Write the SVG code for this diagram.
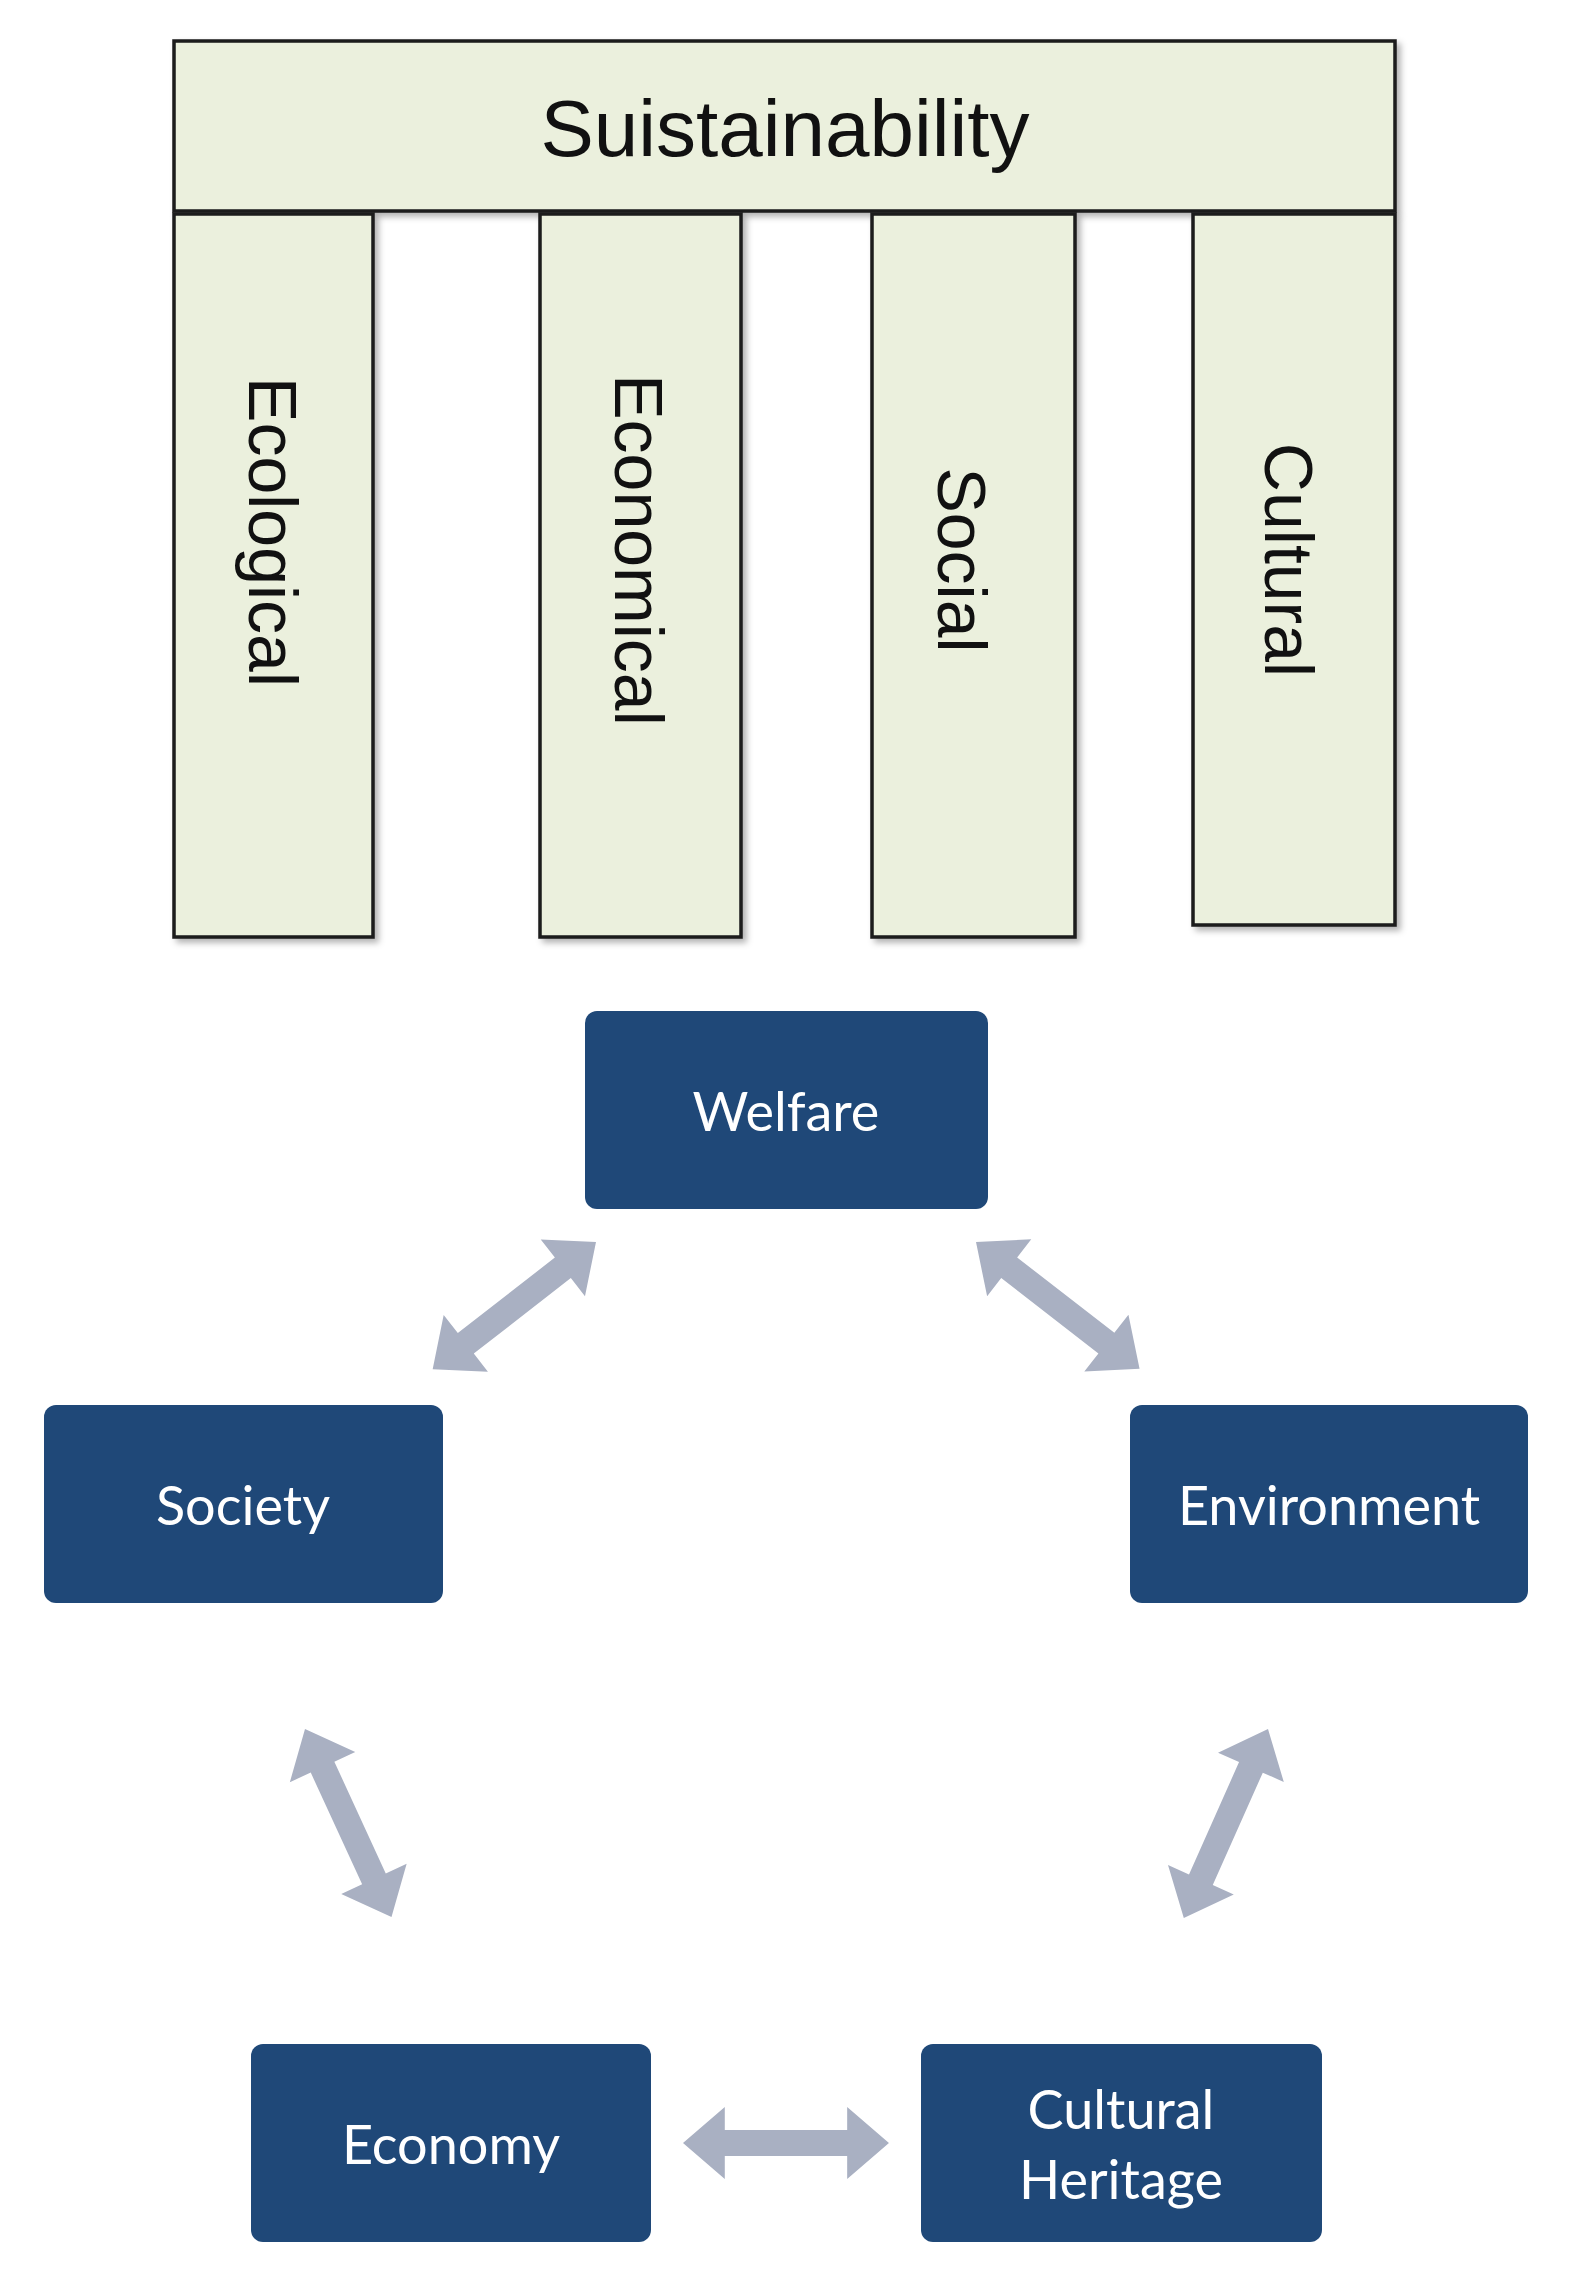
<svg xmlns="http://www.w3.org/2000/svg" width="1569" height="2293" viewBox="0 0 1569 2293">
<style>
.pl{fill:#EBF0DD;stroke:#1a1a1a;stroke-width:3.5}
.pt{font-family:"Liberation Sans",Arial,sans-serif;fill:#111;text-anchor:middle;dominant-baseline:central}
.bx{fill:#1F4878}
.bt{font-family:Lato,"Open Sans",sans-serif;font-size:54px;fill:#fff;text-anchor:middle;dominant-baseline:central}
.ar{fill:#A9B0C2}
</style>
<defs>
<filter id="sh" x="-10%" y="-10%" width="130%" height="130%"><feDropShadow dx="4" dy="4" stdDeviation="3" flood-color="#000" flood-opacity="0.3"/></filter>
<path id="dbl" d="M0,0 L42,-36 L42,-13 L165,-13 L165,-36 L207,0 L165,36 L165,13 L42,13 L42,36 Z"/>
</defs>
<rect width="1569" height="2293" fill="#fff"/>
<g id="sustainability"><rect class="pl" x="174" y="41" width="1221" height="170" filter="url(#sh)"/><text class="pt" x="785" y="128" font-size="80">Suistainability</text></g>
<g id="ecological"><rect class="pl" x="174" y="214" width="199" height="723" filter="url(#sh)"/><text class="pt" font-size="68" transform="translate(273,532) rotate(90)">Ecological</text></g>
<g id="economical"><rect class="pl" x="540" y="214" width="201" height="723" filter="url(#sh)"/><text class="pt" font-size="68" transform="translate(639,550) rotate(90)">Economical</text></g>
<g id="social"><rect class="pl" x="872" y="214" width="203" height="723" filter="url(#sh)"/><text class="pt" font-size="68" transform="translate(962,560) rotate(90)">Social</text></g>
<g id="cultural"><rect class="pl" x="1193" y="214" width="202" height="711" filter="url(#sh)"/><text class="pt" font-size="68" transform="translate(1289,560) rotate(90)">Cultural</text></g>
<g id="connectors" class="ar">
<use href="#dbl" transform="translate(596,1242) rotate(142.1)"/>
<use href="#dbl" transform="translate(976,1242) rotate(37.8)"/>
<use href="#dbl" transform="translate(305,1729) rotate(65.3)"/>
<use href="#dbl" transform="translate(1268,1729) rotate(114)"/>
<use href="#dbl" transform="translate(683,2143) scale(0.995,1)"/>
</g>
<g id="welfare"><rect class="bx" x="585" y="1011" width="403" height="198" rx="12"/><text class="bt" x="786" y="1110">Welfare</text></g>
<g id="society"><rect class="bx" x="44" y="1405" width="399" height="198" rx="12"/><text class="bt" x="243" y="1504">Society</text></g>
<g id="environment"><rect class="bx" x="1130" y="1405" width="398" height="198" rx="12"/><text class="bt" x="1329" y="1504">Environment</text></g>
<g id="economy"><rect class="bx" x="251" y="2044" width="400" height="198" rx="12"/><text class="bt" x="451" y="2143">Economy</text></g>
<g id="heritage"><rect class="bx" x="921" y="2044" width="401" height="198" rx="12"/><text class="bt" x="1121" y="2108">Cultural</text><text class="bt" x="1121" y="2178">Heritage</text></g>
</svg>
